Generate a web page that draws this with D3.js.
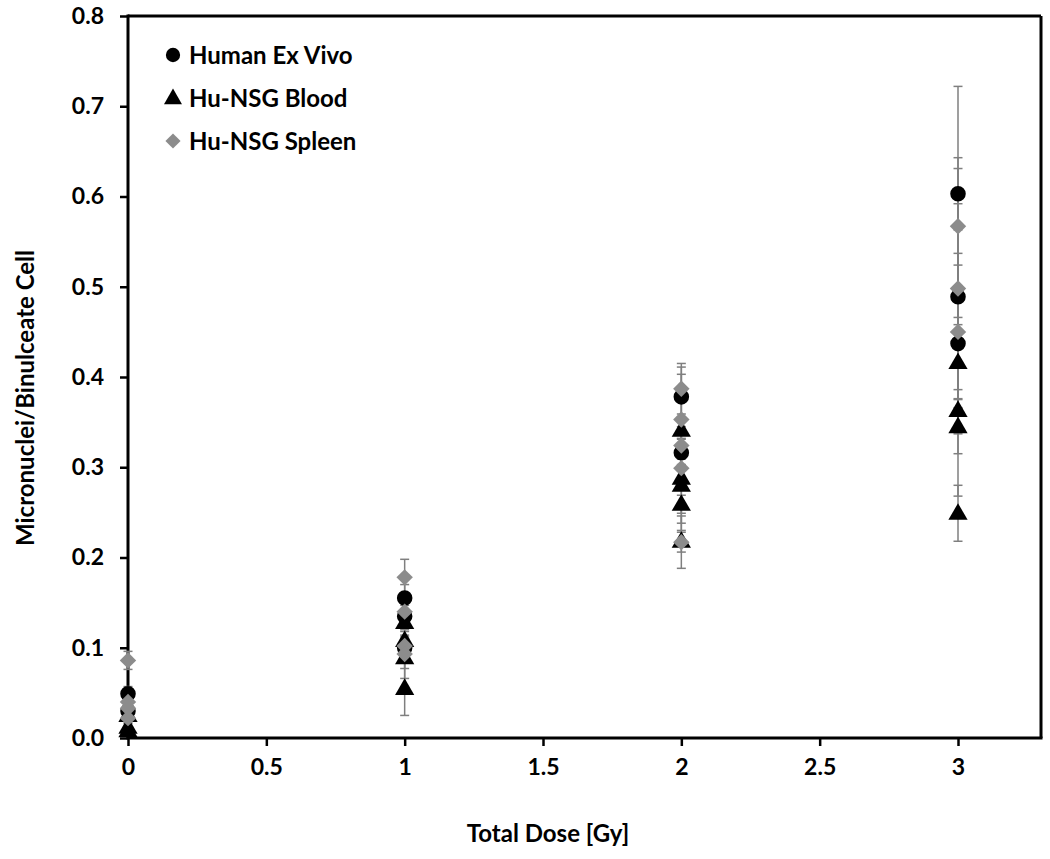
<!DOCTYPE html>
<html><head><meta charset="utf-8">
<script src="https://cdn.jsdelivr.net/npm/d3@7"></script>
<style>body{margin:0;background:#fff}svg{display:block}text{font-family:Lato,"Open Sans",sans-serif;font-weight:bold}</style>
</head><body><svg id="c" width="1050" height="859"></svg>
<script>
const seriesNames = ["Human Ex Vivo", "Hu-NSG Blood", "Hu-NSG Spleen"];
const seriesColors = ["#000000", "#000000", "#8c8c8c"];
const xTicks = [0, 0.5, 1, 1.5, 2, 2.5, 3];
const yTicks = [0, 0.1, 0.2, 0.3, 0.4, 0.5, 0.6, 0.7, 0.8];
// [dose, mean, sd]
const humanExVivo = [
  [0, 0.049, 0.008], [0, 0.030, 0.006],
  [1, 0.155, 0.015], [1, 0.135, 0.012], [1, 0.100, 0.010],
  [2, 0.378, 0.033], [2, 0.316, 0.015],
  [3, 0.603, 0.040], [3, 0.489, 0.103], [3, 0.437, 0.100]
];
const huNsgBlood = [
  [0, 0.025, 0.005], [0, 0.012, 0.004], [0, 0.008, 0.003],
  [1, 0.128, 0.010], [1, 0.108, 0.012], [1, 0.089, 0.023], [1, 0.055, 0.030],
  [2, 0.341, 0.015], [2, 0.288, 0.050], [2, 0.280, 0.052], [2, 0.259, 0.010], [2, 0.218, 0.012],
  [3, 0.416, 0.050], [3, 0.363, 0.095], [3, 0.345, 0.030], [3, 0.249, 0.031]
];
const huNsgSpleen = [
  [0, 0.086, 0.010], [0, 0.040, 0.006], [0, 0.033, 0.005], [0, 0.022, 0.005],
  [1, 0.178, 0.020], [1, 0.140, 0.010], [1, 0.102, 0.012], [1, 0.093, 0.016],
  [2, 0.387, 0.028], [2, 0.353, 0.050], [2, 0.324, 0.015], [2, 0.299, 0.018], [2, 0.217, 0.029],
  [3, 0.567, 0.155], [3, 0.498, 0.133], [3, 0.450, 0.074]
];
const allSeries = [humanExVivo, huNsgBlood, huNsgSpleen];

const svg = d3.select("#c");
const L = 128, R = 1041, T = 16, B = 738;
const x = d3.scaleLinear().domain([0, 3.3]).range([L, R]);
const y = d3.scaleLinear().domain([0, 0.8]).range([B, T]);

svg.append("line").attr("x1", L).attr("x2", R).attr("y1", T).attr("y2", T).attr("stroke", "#000").attr("stroke-width", 3);
svg.append("line").attr("x1", R).attr("x2", R).attr("y1", T).attr("y2", B).attr("stroke", "#000").attr("stroke-width", 3);

const xAxis = svg.append("g").attr("transform", `translate(0,${B})`)
  .call(d3.axisBottom(x).tickValues(xTicks).tickFormat(d3.format("")).tickSize(8).tickSizeOuter(0).tickPadding(13));
const yAxis = svg.append("g").attr("transform", `translate(${L},0)`)
  .call(d3.axisLeft(y).tickValues(yTicks).tickFormat(d3.format(".1f")).tickSize(8).tickSizeOuter(0).tickPadding(16));
[xAxis, yAxis].forEach(g => {
  g.select(".domain").attr("stroke", "#000").attr("stroke-width", 3);
  g.selectAll(".tick line").attr("stroke", "#000").attr("stroke-width", 2.5);
  g.selectAll(".tick text").attr("fill", "#000").style("font-size", "23px").style("font-family", "Lato").style("font-weight", "bold");
});
xAxis.select(".domain").attr("d", `M${L - 1.5},0H${R + 1.5}`);
yAxis.select(".domain").attr("d", `M0,${T - 1.5}V${B}`);

const eb = svg.append("g");
allSeries.forEach(s => {
  s.forEach(([d, m, sd]) => {
    const cx = x(d);
    eb.append("line").attr("x1", cx).attr("x2", cx).attr("y1", y(m - sd)).attr("y2", y(m + sd)).attr("stroke", "#7f7f7f").attr("stroke-width", 1.5);
    [m - sd, m + sd].forEach(v => eb.append("line").attr("x1", cx - 4.5).attr("x2", cx + 4.5).attr("y1", y(v)).attr("y2", y(v)).attr("stroke", "#7f7f7f").attr("stroke-width", 1.5));
  });
});

const diamond = size => { const h = Math.sqrt(size / 2); return `M0,${-h}L${h},0L0,${h}L${-h},0Z`; };
const symPath = [d3.symbol().type(d3.symbolCircle).size(190)(), d3.symbol().type(d3.symbolTriangle).size(160)(), diamond(135)];
allSeries.forEach((s, i) => {
  svg.append("g").selectAll("path").data(s).join("path")
    .attr("d", symPath[i])
    .attr("transform", d => `translate(${x(d[0])},${y(d[1]) + (i === 1 ? 1 : 0)})`)
    .attr("fill", seriesColors[i]);
});

const lg = svg.append("g");
const lgPath = [d3.symbol().type(d3.symbolCircle).size(160)(), d3.symbol().type(d3.symbolTriangle).size(140)(), diamond(115)];
seriesNames.forEach((n, i) => {
  const yy = 55 + i * 43;
  lg.append("path").attr("d", lgPath[i]).attr("transform", `translate(173,${yy + (i === 1 ? 1 : 0)})`).attr("fill", seriesColors[i]);
  lg.append("text").attr("x", 189).attr("y", yy + 8.5).text(n).style("font-size", "24px").attr("fill", "#000");
});

svg.append("text").attr("x", 548).attr("y", 842).attr("text-anchor", "middle").style("font-size", "24px").text("Total Dose [Gy]");
svg.append("text").attr("transform", "translate(34,398) rotate(-90)").attr("text-anchor", "middle").style("font-size", "24px").text("Micronuclei/Binulceate Cell");
</script></body></html>
